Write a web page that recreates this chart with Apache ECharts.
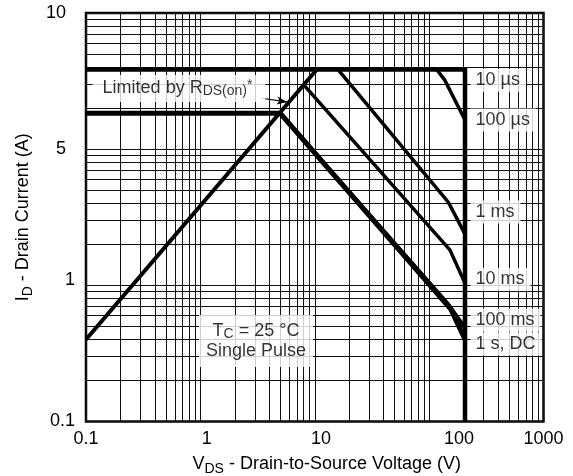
<!DOCTYPE html>
<html><head><meta charset="utf-8">
<script src="https://cdn.jsdelivr.net/npm/echarts@6/dist/echarts.min.js"></script>
<style>html,body{margin:0;padding:0;background:#fff}#c{width:573px;height:476px}</style>
</head><body><div id="c"></div>
<script>
// ---- printed tick labels ----
const xTickLabels = ['0.1', '1', '10', '100', '1000'];
const xTickValues = [0.1, 1, 10, 100, 1000];
const yTickLabels = ['0.1', '1', '5', '10'];
const yTickValues = [0.1, 1, 5, 10];
// where each printed tick label sits on the sheet's logarithmic grid
const xTickOnGrid = [0.1, 1.135, 11.33, 182.2, 1000];
const yTickOnGrid = [0.1, 1.092, 10, 100];
const gridMultipliers = [1, 2, 3, 4, 5, 6, 7, 8, 9];

// ---- curves: [V_DS (V), I_D (A)] ----
const rdsLimit   = [[0.1, 0.38], [9.2, 7.5]];
const curve10us  = [[0.1, 7.5], [118, 7.5], [118, 0.1]];
const curve100us = [[69, 7.5], [79, 7.1], [118, 5.8]];
const curve1ms   = [[13.3, 7.5], [84, 2.6], [118, 1.76]];
const curve10ms  = [[7.2, 6.9], [86, 1.45], [118, 0.95]];
const curve100ms = [[4.4, 6.0], [83, 0.68], [118, 0.46]];
const curveDC    = [[0.1, 6.0], [4.4, 6.0], [87.5, 0.62], [118, 0.38]];
const curveNames = ['10 µs', '100 µs', '1 ms', '10 ms', '100 ms', '1 s, DC'];

// ---- map printed values onto the sheet grid (log interpolation between printed ticks) ----
function calib(values, grid) {
  return function (v) {
    let i = 0;
    while (i < values.length - 2 && v > values[i + 1]) i++;
    const t = Math.log(v / values[i]) / Math.log(values[i + 1] / values[i]);
    return grid[i] * Math.pow(grid[i + 1] / grid[i], t);
  };
}
const toX = calib(xTickValues, xTickOnGrid);
const toY = calib(yTickValues, yTickOnGrid);
const pts = d => d.map(p => [toX(p[0]), toY(p[1])]);

function gridLines(eFrom, eTo) {
  const out = [];
  for (let e = eFrom; e < eTo; e++) gridMultipliers.forEach(m => out.push(+(m * Math.pow(10, e)).toPrecision(3)));
  out.push(+Math.pow(10, eTo).toPrecision(3));
  return out;
}
const xGrid = gridLines(-1, 3);
const yGrid = gridLines(-1, 2);

function nearestIdx(arr, v) {
  let b = 0;
  arr.forEach((a, i) => { if (Math.abs(Math.log(a / v)) < Math.abs(Math.log(arr[b] / v))) b = i; });
  return b;
}

const FONT = '"Liberation Sans", Arial, Helvetica, sans-serif';
const mainTxt = { fontFamily: FONT, fontSize: 18, color: '#000', lineHeight: 24 };
const subTxt = { fontFamily: FONT, fontSize: 14, color: '#000', lineHeight: 14, verticalAlign: 'bottom' };
const supTxt = { fontFamily: FONT, fontSize: 14, color: '#000', lineHeight: 14, verticalAlign: 'top' };

function lineSeries(name, data, width) {
  return {
    name: name, type: 'line', data: pts(data), symbol: 'none', showSymbol: false,
    lineStyle: { color: '#000', width: width, cap: 'butt', join: 'miter' },
    silent: true, z: 3
  };
}

// annotation anchors (printed units)
const labelAnchorV = 118;
const labelAnchorI = [7.1, 5.8, 2.31, 1.01, 0.52, 0.353];

const chart = echarts.init(document.getElementById('c'), null, { renderer: 'canvas' });
chart.setOption({
  animation: false,
  backgroundColor: '#fff',
  grid: { left: 86, right: 29.5, top: 13, bottom: 54.5, show: true, borderColor: '#000', borderWidth: 2.5, backgroundColor: 'transparent', containLabel: false, outerBoundsMode: 'none' },
  xAxis: {
    type: 'log', logBase: 10, min: 0.1, max: 1000,
    axisLine: { show: false },
    axisTick: { show: false, customValues: xGrid },
    splitLine: { show: true, lineStyle: { color: '#111', width: 1 } },
    minorSplitLine: { show: false },
    axisLabel: {
      customValues: xTickOnGrid, margin: 9, fontFamily: FONT, fontSize: 18, color: '#000',
      formatter: v => xTickLabels[nearestIdx(xTickOnGrid, v)]
    },
    name: '{m|V}{s|DS}{m| - Drain-to-Source Voltage (V)}',
    nameLocation: 'middle', nameGap: 31,
    nameTextStyle: { padding: [0, 0, 0, 24], rich: { m: mainTxt, s: subTxt } }
  },
  yAxis: {
    type: 'log', logBase: 10, min: 0.1, max: 100,
    axisLine: { show: false },
    axisTick: { show: false, customValues: yGrid },
    splitLine: { show: true, lineStyle: { color: '#111', width: 1 } },
    minorSplitLine: { show: false },
    axisLabel: {
      customValues: yTickOnGrid, margin: 11, fontFamily: FONT, fontSize: 18, color: '#000',
      formatter: v => {
        const i = nearestIdx(yTickOnGrid, v);
        return (i >= 2 ? '{w|' : '{n|') + yTickLabels[i] + '}';
      },
      rich: {
        n: { fontFamily: FONT, fontSize: 18, color: '#000' },
        w: { fontFamily: FONT, fontSize: 18, color: '#000', padding: [0, 9, 0, 0] }
      }
    },
    name: '{m|I}{s|D}{m| - Drain Current (A)}',
    nameLocation: 'middle', nameGap: 49, nameRotate: 90,
    nameTextStyle: { rich: { m: mainTxt, s: subTxt } }
  },
  series: [
    lineSeries('RDS(on) limit', rdsLimit, 4),
    lineSeries(curveNames[0], curve10us, 4.5),
    lineSeries(curveNames[1], curve100us, 3.5),
    lineSeries(curveNames[2], curve1ms, 3.5),
    lineSeries(curveNames[3], curve10ms, 3.5),
    lineSeries(curveNames[4], curve100ms, 4),
    lineSeries(curveNames[5], curveDC, 5),
    {
      name: 'curve labels', type: 'scatter', silent: true, z: 5,
      symbolSize: 1, itemStyle: { color: 'rgba(0,0,0,0)' },
      data: curveNames.map((n, i) => ({ name: n, value: [toX(labelAnchorV), toY(labelAnchorI[i])] })),
      label: {
        show: true, position: 'right', distance: 5, formatter: '{b}',
        fontFamily: FONT, fontSize: 18, color: '#000', lineHeight: 20,
        backgroundColor: '#fff', padding: [2, 6, 1, 5]
      }
    },
    {
      name: 'notes', type: 'scatter', silent: true, z: 5,
      symbolSize: 1, itemStyle: { color: 'rgba(0,0,0,0)' },
      data: [
        {
          value: [toX(0.59), toY(6.81)],
          label: {
            formatter: '{m|Limited by R}{s|DS(on)}{p|*}',
            padding: [3, 13, 4, 10]
          }
        },
        {
          value: [toX(2.7), toY(0.371)],
          label: {
            formatter: '{m|T}{s|C}{m| = 25 °C}\n{m|Single Pulse}',
            padding: [6, 7, 6, 7]
          }
        }
      ],
      label: {
        show: true, position: 'inside', align: 'center',
        backgroundColor: '#fff',
        rich: {
          m: { fontFamily: FONT, fontSize: 18, color: '#000', lineHeight: 20 },
          s: { fontFamily: FONT, fontSize: 14, color: '#000', lineHeight: 14, verticalAlign: 'bottom' },
          p: supTxt
        }
      },
      markLine: {
        silent: true, symbol: ['none', 'arrow'], symbolSize: [6, 10],
        lineStyle: { type: 'solid', color: '#000', width: 1.2 },
        label: { show: false },
        data: [[{ coord: [toX(3.03), toY(6.48)] }, { coord: [toX(5.04), toY(6.36)] }]]
      }
    }
  ]
});
</script>
</body></html>
